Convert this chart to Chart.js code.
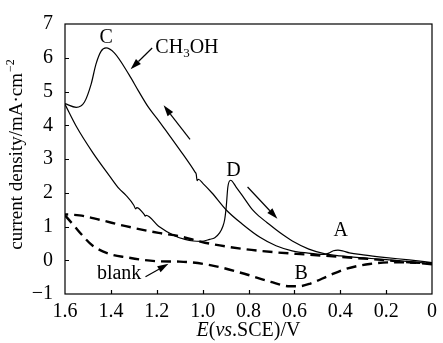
<!DOCTYPE html>
<html>
<head>
<meta charset="utf-8">
<script src="https://cdn.jsdelivr.net/npm/chart.js@4/dist/chart.umd.min.js"></script>
<style>
  html, body { margin: 0; padding: 0; background: #fff; }
</style>
</head>
<body>
<canvas id="cvChart" width="443" height="343"></canvas>
<script>
// ---- data: E (V vs SCE) and current density (mA/cm2) ----

// CH3OH, positive-going scan (0 -> 1.6 V), peaks A and C
const methFwdE = [0, 0.1, 0.2, 0.3, 0.36, 0.39, 0.41, 0.43, 0.45, 0.47, 0.5, 0.54, 0.61, 0.68, 0.75, 0.825, 0.897, 0.96, 0.998, 1.019, 1.024, 1.028, 1.033, 1.091, 1.163, 1.192, 1.235, 1.28, 1.321, 1.386, 1.421, 1.443, 1.465, 1.486, 1.515, 1.551, 1.6];
const methFwdJ = [-0.07, 0.01, 0.08, 0.16, 0.22, 0.28, 0.30, 0.28, 0.21, 0.17, 0.18, 0.21, 0.28, 0.43, 0.68, 1.06, 1.49, 2.0, 2.27, 2.40, 2.36, 2.55, 2.61, 3.19, 3.87, 4.14, 4.52, 5.02, 5.50, 6.15, 6.29, 6.19, 5.81, 5.22, 4.69, 4.53, 4.64];

// CH3OH, negative-going scan (1.6 -> 0 V), peak D
const methRevE = [1.6, 1.551, 1.479, 1.407, 1.364, 1.335, 1.30, 1.292, 1.287, 1.255, 1.25, 1.246, 1.192, 1.12, 1.077, 1.041, 1.005, 0.969, 0.947, 0.926, 0.912, 0.904, 0.897, 0.89, 0.878, 0.854, 0.82, 0.782, 0.753, 0.72, 0.681, 0.645, 0.609, 0.537, 0.466, 0.4, 0.3, 0.2, 0.1, 0];
const methRevJ = [4.62, 3.97, 3.19, 2.51, 2.12, 1.93, 1.63, 1.52, 1.56, 1.36, 1.31, 1.33, 1.01, 0.72, 0.62, 0.57, 0.56, 0.62, 0.67, 0.81, 1.0, 1.2, 1.59, 2.17, 2.37, 2.17, 1.85, 1.49, 1.30, 1.12, 0.91, 0.73, 0.57, 0.33, 0.19, 0.13, 0.07, 0.02, -0.04, -0.1];

// blank, positive-going scan
const blankFwdE = [0, 0.1, 0.2, 0.3, 0.4, 0.545, 0.674, 0.818, 0.99, 1.1, 1.192, 1.335, 1.45, 1.537, 1.6];
const blankFwdJ = [-0.12, -0.06, 0.0, 0.05, 0.1, 0.17, 0.23, 0.33, 0.52, 0.71, 0.81, 1.01, 1.2, 1.33, 1.36];

// blank, negative-going scan, peak B
const blankRevE = [1.6, 1.565, 1.522, 1.479, 1.407, 1.335, 1.192, 1.1, 0.962, 0.818, 0.703, 0.62, 0.58, 0.53, 0.444, 0.372, 0.272, 0.157, 0];
const blankRevJ = [1.33, 1.06, 0.72, 0.43, 0.19, 0.09, -0.03, -0.04, -0.15, -0.40, -0.64, -0.77, -0.77, -0.69, -0.44, -0.25, -0.11, -0.06, -0.09];

// axis ranges / ticks
const xMin = 0, xMax = 1.6, xStep = 0.2;
const yMin = -1, yMax = 7, yStep = 1;

const toPts = (xs, ys) => xs.map((x, i) => ({ x: x, y: ys[i] }));

const SERIF = "'Liberation Serif', 'Times New Roman', serif";

// draws frame, inward ticks, axis titles and the peak labels / arrows
const decorPlugin = {
  id: 'decor',
  afterDatasetsDraw(chart) {
    const { ctx, chartArea: a } = chart;
    const xs = chart.scales.x, ys = chart.scales.y;
    const px = e => xs.getPixelForValue(e);
    const py = j => ys.getPixelForValue(j);

    ctx.save();
    ctx.strokeStyle = '#000';
    ctx.fillStyle = '#000';
    ctx.lineWidth = 1.2;
    ctx.strokeRect(a.left, a.top, a.right - a.left, a.bottom - a.top);

    // ticks pointing into the plot
    ctx.beginPath();
    xs.ticks.forEach(t => {
      const p = Math.round(px(t.value)) + 0.5;
      if (p < a.left + 2 || p > a.right - 2) return;
      ctx.moveTo(p, a.bottom);
      ctx.lineTo(p, a.bottom - 4);
    });
    ys.ticks.forEach(t => {
      const p = Math.round(py(t.value)) + 0.5;
      if (p < a.top + 2 || p > a.bottom - 2) return;
      ctx.moveTo(a.left, p);
      ctx.lineTo(a.left + 4, p);
    });
    ctx.stroke();

    // y title with superscript
    ctx.save();
    ctx.translate(22, (a.top + a.bottom) / 2 - 4);
    ctx.rotate(-Math.PI / 2);
    ctx.textBaseline = 'alphabetic';
    ctx.font = '19px ' + SERIF;
    const main = 'current density/mA\u00B7cm';
    const w1 = ctx.measureText(main).width;
    ctx.font = '12px ' + SERIF;
    const w2 = ctx.measureText('\u22122').width;
    let sx = -(w1 + w2) / 2;
    ctx.font = '19px ' + SERIF;
    ctx.textAlign = 'left';
    ctx.fillText(main, sx, 0);
    ctx.font = '12px ' + SERIF;
    ctx.fillText('\u22122', sx + w1 + 1, -8);
    ctx.restore();

    // x title: E(vs.SCE)/V with italic parts
    const parts = [['E', true], ['(', false], ['vs', true], ['.SCE)/V', false]];
    let total = 0;
    parts.forEach(p => {
      ctx.font = (p[1] ? 'italic ' : '') + '20px ' + SERIF;
      total += ctx.measureText(p[0]).width;
    });
    let tx = (a.left + a.right) / 2 - total / 2;
    ctx.textAlign = 'left';
    ctx.textBaseline = 'alphabetic';
    parts.forEach(p => {
      ctx.font = (p[1] ? 'italic ' : '') + '20px ' + SERIF;
      ctx.fillText(p[0], tx, 336);
      tx += ctx.measureText(p[0]).width;
    });

    // labels
    ctx.font = '20px ' + SERIF;
    ctx.textAlign = 'center';
    ctx.textBaseline = 'middle';
    ctx.fillText('C', px(1.42), py(6.58));
    ctx.fillText('D', px(0.865), py(2.66));
    ctx.fillText('A', px(0.398), py(0.86));
    ctx.fillText('B', px(0.57), py(-0.40));
    ctx.fillText('blank', px(1.364), py(-0.39));

    // CH3OH with subscript
    ctx.textAlign = 'left';
    ctx.textBaseline = 'alphabetic';
    let cx = px(1.206), cy = py(6.15);
    ctx.font = '20px ' + SERIF;
    ctx.fillText('CH', cx, cy);
    cx += ctx.measureText('CH').width;
    ctx.font = '13px ' + SERIF;
    ctx.fillText('3', cx, cy + 4);
    cx += ctx.measureText('3').width;
    ctx.font = '20px ' + SERIF;
    ctx.fillText('OH', cx, cy);

    // arrows
    const arrow = (e1, j1, e2, j2) => {
      const x1 = px(e1), y1 = py(j1), x2 = px(e2), y2 = py(j2);
      const ang = Math.atan2(y2 - y1, x2 - x1);
      const L = 11, W = 3.5;
      const bx = x2 - L * Math.cos(ang), by = y2 - L * Math.sin(ang);
      ctx.lineWidth = 1.2;
      ctx.beginPath();
      ctx.moveTo(x1, y1);
      ctx.lineTo(bx, by);
      ctx.stroke();
      ctx.beginPath();
      ctx.moveTo(x2, y2);
      ctx.lineTo(bx + W * Math.sin(ang), by - W * Math.cos(ang));
      ctx.lineTo(bx - W * Math.sin(ang), by + W * Math.cos(ang));
      ctx.closePath();
      ctx.fill();
    };
    arrow(1.22, 6.29, 1.314, 5.66);    // CH3OH pointer
    arrow(1.055, 3.58, 1.17, 4.59);    // forward scan direction
    arrow(0.804, 2.17, 0.674, 1.23);   // reverse scan direction
    arrow(1.249, -0.49, 1.149, -0.105); // blank pointer

    ctx.restore();
  }
};

const solid = { borderColor: '#000', borderWidth: 1.2, pointRadius: 0, fill: false, cubicInterpolationMode: 'monotone' };
const dashed = { borderColor: '#000', borderWidth: 2.4, borderDash: [10, 6], pointRadius: 0, fill: false, cubicInterpolationMode: 'monotone' };

new Chart(document.getElementById('cvChart'), {
  type: 'line',
  data: {
    datasets: [
      Object.assign({ label: 'CH3OH +', data: toPts(methFwdE, methFwdJ) }, solid),
      Object.assign({ label: 'CH3OH -', data: toPts(methRevE, methRevJ) }, solid),
      Object.assign({ label: 'blank +', data: toPts(blankFwdE, blankFwdJ) }, dashed),
      Object.assign({ label: 'blank -', data: toPts(blankRevE, blankRevJ) }, dashed),
    ]
  },
  options: {
    responsive: false,
    animation: false,
    devicePixelRatio: 1,
    layout: { autoPadding: false, padding: { top: 19, right: 6, left: 0, bottom: 0 } },
    plugins: { legend: { display: false }, tooltip: { enabled: false } },
    scales: {
      x: {
        type: 'linear',
        min: xMin, max: xMax, reverse: true,
        grid: { display: false, drawTicks: false },
        border: { display: false },
        ticks: {
          stepSize: xStep, padding: 6, color: '#000',
          font: { family: SERIF, size: 20 },
          maxRotation: 0, autoSkip: false,
          callback: v => (Math.abs(v) < 1e-9 ? '0' : v.toFixed(1))
        },
        afterFit: s => { s.height = 49; }
      },
      y: {
        min: yMin, max: yMax,
        grid: { display: false, drawTicks: false },
        border: { display: false },
        ticks: {
          stepSize: yStep, padding: 12, color: '#000',
          font: { family: SERIF, size: 20 },
          callback: v => String(v).replace('-', '\u2212')
        },
        afterFit: s => { s.width = 65; }
      }
    }
  },
  plugins: [decorPlugin]
});
</script>
</body>
</html>
